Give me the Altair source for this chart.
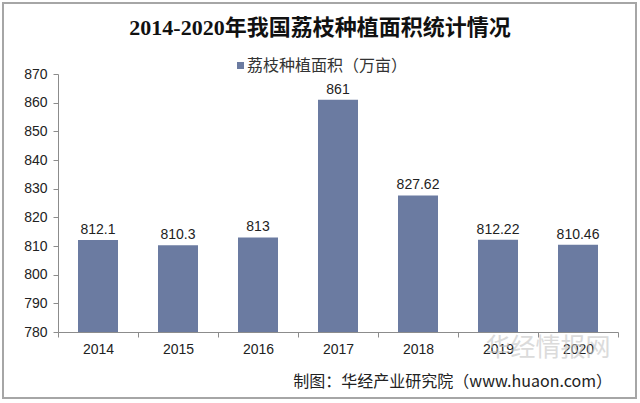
import altair as alt
import pandas as pd

years = ["2014", "2015", "2016", "2017", "2018", "2019", "2020"]
values = [812.1, 810.3, 813, 861, 827.62, 812.22, 810.46]
labels = ["812.1", "810.3", "813", "861", "827.62", "812.22", "810.46"]
y_ticks = [780, 790, 800, 810, 820, 830, 840, 850, 860, 870]

title_text = "2014-2020年我国荔枝种植面积统计情况"
legend_text = "荔枝种植面积（万亩）"
source_text = "制图：华经产业研究院（www.huaon.com）"
watermark_text = "华经情报网"

df = pd.DataFrame({"year": years, "value": values, "label": labels})

FONT = "Liberation Sans"
CJK = "Noto Sans CJK SC"
BAR = "#6B7BA1"
AXIS = "#8C8C8C"

base = alt.Chart(df)

x = alt.X(
    "year:N", sort=years, title=None,
    scale=alt.Scale(paddingInner=0, paddingOuter=0),
    axis=alt.Axis(labelAngle=0, tickBand="extent", labelFontSize=14, labelFont=FONT,
                  labelColor="#222222", tickSize=5, tickColor=AXIS, domainColor=AXIS,
                  labelPadding=5, grid=False, labelOverlap=False),
)
y = alt.Y(
    "value:Q", title=None,
    scale=alt.Scale(domain=[780, 870], zero=False, nice=False),
    axis=alt.Axis(values=y_ticks, grid=False, labelFontSize=14, labelFont=FONT,
                  labelColor="#222222", tickSize=5, tickColor=AXIS, domainColor=AXIS,
                  labelPadding=6, labelOverlap=False, labelBound=False),
)

bars = base.mark_bar(size=40, color=BAR).encode(x=x, y=y, y2=alt.datum(780))

texts = base.mark_text(dy=-6, baseline="alphabetic", fontSize=14, font=FONT,
                       color="#222222").encode(x=x, y=y, text="label:N")

one = alt.Data(values=[{}])

border = alt.Chart(one).mark_rect(fill=None, stroke="#A6A6A6", strokeWidth=2).encode(
    x=alt.value(-55), x2=alt.value(578), y=alt.value(-71), y2=alt.value(324))

title = alt.Chart(one).mark_text(
    text=title_text, fontSize=22, fontWeight="bold",
    font="Liberation Serif, " + CJK, color="#111111",
    align="center", baseline="middle").encode(x=alt.value(262), y=alt.value(-46))

leg_sq = alt.Chart(one).mark_rect(color=BAR).encode(
    x=alt.value(179), x2=alt.value(186), y=alt.value(-12), y2=alt.value(-5))
leg_txt = alt.Chart(one).mark_text(
    text=legend_text, fontSize=16, font=CJK, color="#333333",
    align="left", baseline="middle").encode(x=alt.value(189), y=alt.value(-8))

source = alt.Chart(one).mark_text(
    text=source_text, fontSize=16, font=CJK, color="#222222",
    align="right", baseline="middle").encode(x=alt.value(554), y=alt.value(308))

watermark = alt.Chart(one).mark_text(
    text=watermark_text, fontSize=25, font=CJK, color="#C4C4C4", opacity=0.6,
    align="center", baseline="middle").encode(x=alt.value(490), y=alt.value(274))

chart = alt.layer(border, bars, texts, watermark, title, leg_sq, leg_txt, source).properties(
    width=560, height=258,
    padding={"left": 58, "top": 74, "right": 22, "bottom": 71},
    autosize=alt.AutoSizeParams(type="none"),
    background="white",
).configure_view(stroke=None)

chart.save("out.html", embed_options={"renderer": "svg", "actions": False})
